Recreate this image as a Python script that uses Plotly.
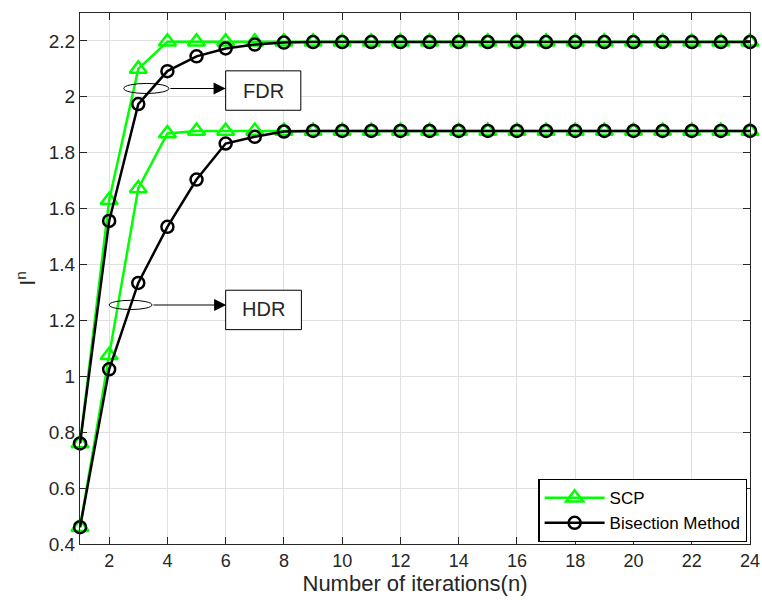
import plotly.graph_objects as go

iterations = list(range(1, 25))
scp_fdr = [0.76, 1.63, 2.10] + [2.197] * 21
bis_fdr = [0.76, 1.556, 1.974, 2.092, 2.145, 2.173, 2.187, 2.194] + [2.196] * 16
scp_hdr = [0.46, 1.075, 1.672, 1.869] + [1.878] * 20
bis_hdr = [0.46, 1.025, 1.334, 1.535, 1.704, 1.833, 1.857, 1.876] + [1.878] * 16

x_ticks = list(range(2, 25, 2))
x_tick_text = [str(v) for v in x_ticks]
y_ticks = [0.4, 0.6, 0.8, 1.0, 1.2, 1.4, 1.6, 1.8, 2.0, 2.2]
y_tick_text = ["0.4", "0.6", "0.8", "1", "1.2", "1.4", "1.6", "1.8", "2", "2.2"]

GREEN = "#00ff00"
BLACK = "#000000"
TXT = "#262626"
FONT = "Liberation Sans, Arial, sans-serif"

fig = go.Figure()

def add(y, color, symbol, size, name, show):
    fig.add_trace(go.Scatter(
        x=iterations, y=y, mode="lines+markers", name=name, showlegend=show,
        legendgroup=name, cliponaxis=False,
        line=dict(color=color, width=2.5),
        marker=dict(symbol=symbol, size=size, color=color,
                    line=dict(color=color, width=2.5)),
    ))

add(scp_fdr, GREEN, "triangle-up-open", 15, "SCP", True)
add(scp_hdr, GREEN, "triangle-up-open", 15, "SCP", False)
add(bis_fdr, BLACK, "circle-open", 12, "Bisection Method", True)
add(bis_hdr, BLACK, "circle-open", 12, "Bisection Method", False)

shapes = []
annotations = []
# FDR annotation
shapes.append(dict(type="circle", xref="x", yref="y", x0=2.5, x1=4.05, y0=2.012, y1=2.048,
                   line=dict(color=BLACK, width=1)))
shapes.append(dict(type="rect", xref="x", yref="y", x0=6.0, x1=8.58, y0=1.952, y1=2.093,
                   line=dict(color=BLACK, width=1), fillcolor="white"))
annotations.append(dict(x=6.0, y=2.03, ax=4.05, ay=2.03, xref="x", yref="y", axref="x", ayref="y",
                        text="", showarrow=True, arrowhead=2, arrowsize=2.2, arrowwidth=1.1,
                        arrowcolor=BLACK))
annotations.append(dict(x=7.29, y=2.022, xref="x", yref="y", text="FDR", showarrow=False,
                        font=dict(size=20, color=TXT, family=FONT)))
# HDR annotation
shapes.append(dict(type="circle", xref="x", yref="y", x0=2.0, x1=3.47, y0=1.239, y1=1.272,
                   line=dict(color=BLACK, width=1)))
shapes.append(dict(type="rect", xref="x", yref="y", x0=6.0, x1=8.6, y0=1.167, y1=1.308,
                   line=dict(color=BLACK, width=1), fillcolor="white"))
annotations.append(dict(x=6.02, y=1.255, ax=3.47, ay=1.255, xref="x", yref="y", axref="x", ayref="y",
                        text="", showarrow=True, arrowhead=2, arrowsize=2.2, arrowwidth=1.1,
                        arrowcolor=BLACK))
annotations.append(dict(x=7.3, y=1.24, xref="x", yref="y", text="HDR", showarrow=False,
                        font=dict(size=20, color=TXT, family=FONT)))

fig.update_layout(
    width=762, height=606,
    margin=dict(l=80, r=12, t=13, b=62, autoexpand=False),
    paper_bgcolor="white", plot_bgcolor="white",
    font=dict(family=FONT, color=TXT, size=19),
    shapes=shapes, annotations=annotations,
    legend=dict(x=0.996, y=0.004, xanchor="right", yanchor="bottom",
                bgcolor="white", bordercolor=BLACK, borderwidth=1.3,
                font=dict(size=17, color="#000000", family=FONT),
                itemwidth=60, tracegroupgap=0),
)
fig.update_xaxes(
    range=[0.999, 24.001], tickvals=x_ticks, ticktext=x_tick_text,
    ticklabeloverflow="allow", automargin=False,
    showgrid=True, gridcolor="#e0e0e0", gridwidth=1,
    showline=True, linecolor=TXT, linewidth=1.3, mirror="ticks",
    ticks="inside", ticklen=7, tickcolor=TXT, tickwidth=1.3,
    tickfont=dict(size=18, color=TXT), zeroline=False,
    title=dict(text="Number of iterations(n)", font=dict(size=22, color=TXT), standoff=4),
)
fig.update_yaxes(
    range=[0.4, 2.3], tickvals=y_ticks, ticktext=y_tick_text, automargin=False,
    showgrid=True, gridcolor="#e0e0e0", gridwidth=1,
    showline=True, linecolor=TXT, linewidth=1.3, mirror="ticks",
    ticks="inside", ticklen=7, tickcolor=TXT, tickwidth=1.3,
    tickfont=dict(size=19, color=TXT), zeroline=False,
    title=dict(text="I<sup>n</sup>", font=dict(size=22, color=TXT), standoff=6),
)

fig.write_html("out.html")
